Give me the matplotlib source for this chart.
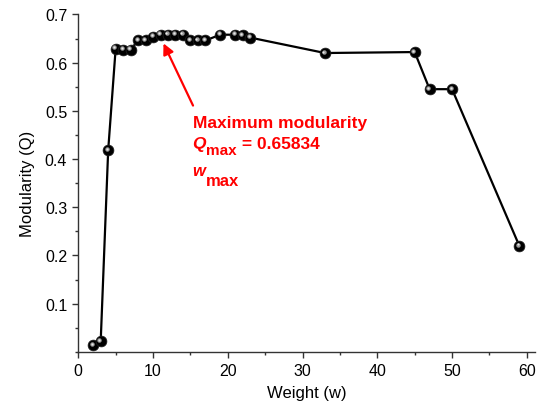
import matplotlib
matplotlib.use("Agg")
import matplotlib.pyplot as plt
from matplotlib.ticker import MultipleLocator
from matplotlib.transforms import offset_copy, IdentityTransform

plt.rcParams['font.family'] = ['Liberation Sans', 'DejaVu Sans']

weights = [2, 3, 4, 5, 6, 7, 8, 9, 10, 11, 12, 13, 14, 15, 16, 17, 19, 21, 22, 23, 33, 45, 47, 50, 59]
modularity = [0.014, 0.022, 0.418, 0.629, 0.627, 0.627, 0.646, 0.647, 0.654, 0.658, 0.658, 0.658, 0.658,
              0.646, 0.646, 0.646, 0.658, 0.658, 0.657, 0.652, 0.620, 0.622, 0.545, 0.545, 0.220]

W, H = 547, 410
fig = plt.figure(figsize=(W / 100, H / 100), dpi=100)
ax = fig.add_axes([0.1431, 0.1393, 0.835, 0.823])

ax.plot(weights, modularity, color='black', lw=1.6, zorder=2)
ax.plot(weights, modularity, ls='none', marker='o', ms=7.8, mfc='black', mec='#222222', mew=0.5, zorder=3)
hl = offset_copy(ax.transData, fig=fig, x=-1.3, y=1.3, units='dots')
ax.plot(weights, modularity, ls='none', marker='o', ms=3.2, mfc='#9a9a9a', mec='none', transform=hl, zorder=4)
hl2 = offset_copy(ax.transData, fig=fig, x=-1.5, y=1.5, units='dots')
ax.plot(weights, modularity, ls='none', marker='o', ms=1.5, mfc='#e8e8e8', mec='none', transform=hl2, zorder=5)

ax.set_xlim(0, 61.1)
ax.set_ylim(0, 0.7)
ax.xaxis.set_major_locator(MultipleLocator(10))
ax.xaxis.set_minor_locator(MultipleLocator(5))
ax.set_yticks([0.1, 0.2, 0.3, 0.4, 0.5, 0.6, 0.7])
ax.yaxis.set_minor_locator(MultipleLocator(0.05))
ax.spines['top'].set_visible(False)
ax.spines['right'].set_visible(False)
for s in ('left', 'bottom'):
    ax.spines[s].set_color('#333333')
    ax.spines[s].set_linewidth(1.0)
ax.tick_params(which='major', direction='out', length=4.5, width=1.0, colors='#333333', labelsize=11.5, labelcolor='black')
ax.tick_params(which='minor', direction='out', length=2.5, width=1.0, colors='#333333')

ax.set_xlabel('Weight (w)', fontsize=12, labelpad=5)
ax.set_ylabel('Modularity (Q)', fontsize=12, labelpad=7)

ax.annotate('', xy=(11.4, 0.640), xytext=(15.35, 0.511),
            arrowprops=dict(arrowstyle='-|>', color='red', lw=1.6, mutation_scale=16, shrinkA=0, shrinkB=0))
ax.text(15.3, 0.467, 'Maximum modularity', color='red', fontsize=12.5, fontweight='bold', va='baseline', ha='left')

# rich-text lines with subscripts, laid out piece by piece
fig.canvas.draw()
renderer = fig.canvas.get_renderer()


def rich_line(x_data, y_data, parts):
    x0, y0 = ax.transData.transform((x_data, y_data))
    x = x0
    for txt, size, style, dy in parts:
        t = fig.text(x, y0 - dy, txt, color='red', fontsize=size, fontweight='bold', fontstyle=style,
                     va='baseline', ha='left', transform=IdentityTransform())
        bb = t.get_window_extent(renderer)
        x = bb.x1


rich_line(15.3, 0.423, [('Q', 12.5, 'italic', 0), ('max', 11, 'normal', 6.5),
                        (' = 0.65834', 12.5, 'normal', 0)])
rich_line(15.3, 0.367, [('w', 12, 'italic', 0), ('max', 12, 'normal', 10)])

fig.savefig('out.png', dpi=100)
